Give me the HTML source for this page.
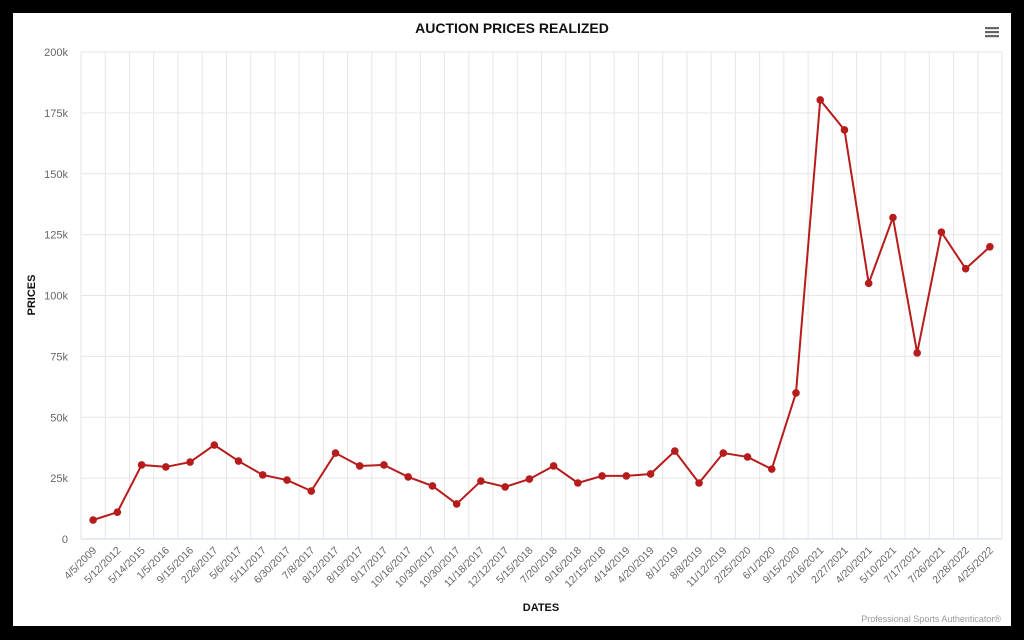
<!DOCTYPE html>
<html><head><meta charset="utf-8"><style>
html,body{margin:0;padding:0;background:#000;}
svg{display:block;font-family:"Liberation Sans",sans-serif;}
</style></head><body>
<svg width="1024" height="640" xmlns="http://www.w3.org/2000/svg">
<rect x="0" y="0" width="1024" height="640" fill="#000"/>
<rect x="13" y="13" width="998" height="613" fill="#fff"/>
<g id="g"></g>
<text x="512" y="33" text-anchor="middle" font-size="14" font-weight="bold" fill="#111">AUCTION PRICES REALIZED</text>
<g fill="#666"><rect x="985" y="27" width="14" height="2.2"/><rect x="985" y="31" width="14" height="2.2"/><rect x="985" y="35" width="14" height="2.2"/></g>
<text transform="translate(35,295) rotate(-90)" text-anchor="middle" font-size="11" font-weight="bold" fill="#111">PRICES</text>
<text x="541" y="611" text-anchor="middle" font-size="11" font-weight="bold" fill="#111">DATES</text>
<text x="1001" y="622" text-anchor="end" font-size="9" fill="#999">Professional Sports Authenticator®</text>
</svg>
<script>
const labels=["4/5/2009","5/12/2012","5/14/2015","1/5/2016","9/15/2016","2/26/2017","5/6/2017","5/11/2017","6/30/2017","7/8/2017","8/12/2017","8/19/2017","9/17/2017","10/16/2017","10/30/2017","10/30/2017","11/18/2017","12/12/2017","5/15/2018","7/20/2018","9/16/2018","12/15/2018","4/14/2019","4/20/2019","8/1/2019","8/8/2019","11/12/2019","2/25/2020","6/1/2020","9/15/2020","2/16/2021","2/27/2021","4/20/2021","5/10/2021","7/17/2021","7/26/2021","2/28/2022","4/25/2022"];
const v=[7.8,11,30.4,29.6,31.6,38.6,32,26.3,24.2,19.7,35.3,30,30.4,25.5,21.8,14.4,23.8,21.4,24.6,30,23,25.9,25.9,26.7,36.1,23,35.3,33.7,28.7,60,180.3,168,105,132,76.4,126,111,120];
const L=81,R=1002,T=52,B=539,n=38,w=(R-L)/n;
let s='';
for(let i=0;i<=8;i++){const y=B-(B-T)*i/8;s+=`<line x1="${L}" x2="${R}" y1="${y}" y2="${y}" stroke="#e6e6e6"/>`;
s+=`<text x="68" y="${y+4}" text-anchor="end" font-size="11" fill="#666">${i?i*25+'k':'0'}</text>`;}
for(let i=0;i<=n;i++){const x=L+w*i;s+=`<line x1="${x}" x2="${x}" y1="${T}" y2="${B}" stroke="#e6e6e6"/>`;}
s+=`<line x1="${L}" x2="${R}" y1="${B}" y2="${B}" stroke="#ccd6eb"/>`;
let pts=[];
for(let i=0;i<n;i++){const x=L+w*(i+.5),y=B-v[i]*(B-T)/200;pts.push([x,y]);
s+=`<text transform="translate(${x+4},${B+12}) rotate(-45)" text-anchor="end" font-size="10.5" fill="#666">${labels[i]}</text>`;}
s+=`<polyline fill="none" stroke="#b71c1c" stroke-width="2" points="${pts.map(p=>p.join(',')).join(' ')}"/>`;
pts.forEach(p=>s+=`<circle cx="${p[0]}" cy="${p[1]}" r="3.8" fill="#b71c1c"/>`);
document.getElementById('g').innerHTML=s;
</script>
</body></html>
